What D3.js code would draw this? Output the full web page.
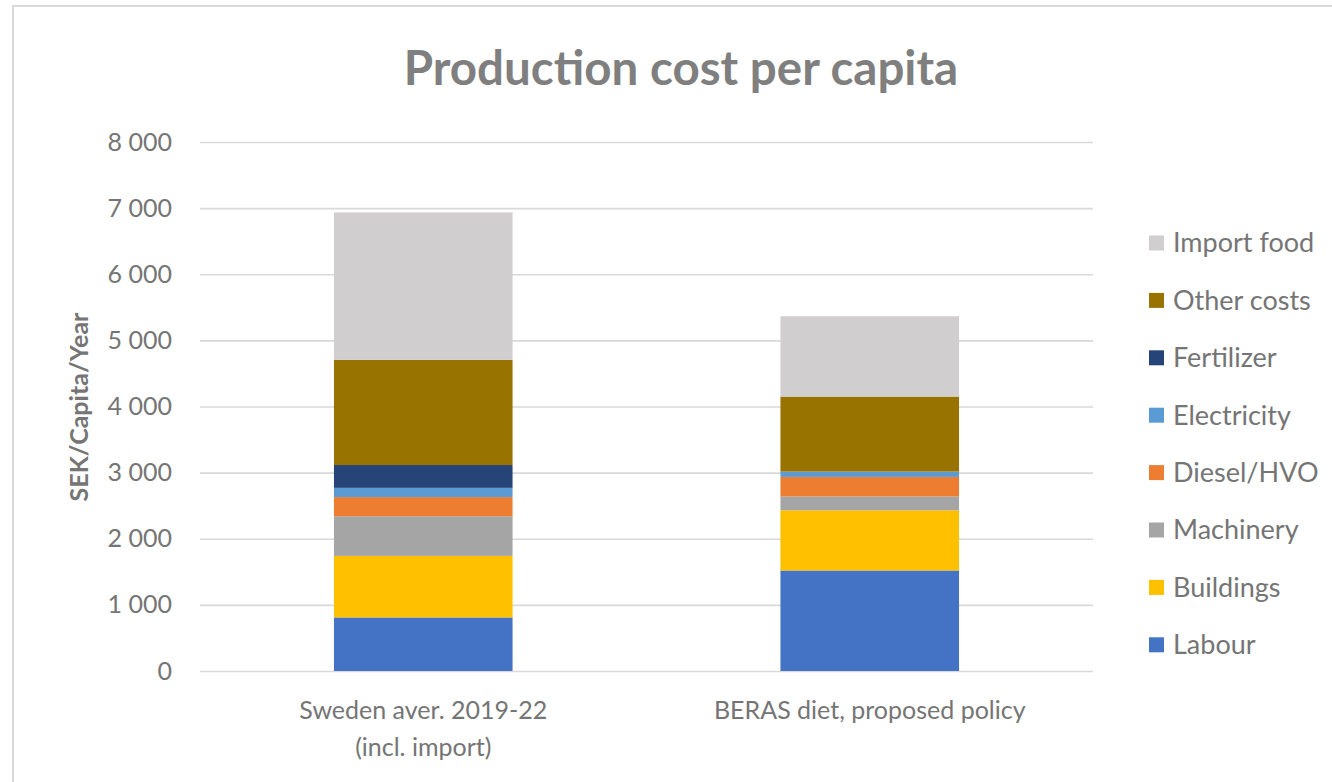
<!DOCTYPE html>
<html>
<head>
<meta charset="utf-8">
<script src="https://cdn.jsdelivr.net/npm/d3@7"></script>
<style>
  html, body { margin: 0; padding: 0; background: #ffffff; }
  svg { display: block; font-family: Lato, "Open Sans", sans-serif; }
  svg text { font-family: Lato, "Open Sans", sans-serif; }
</style>
</head>
<body>
<svg id="chart" width="1332" height="782"></svg>
<script>
// Categories (x axis), split into display lines
const categories = ["Sweden aver. 2019-22\n(incl. import)", "BERAS diet, proposed policy"];

// Cost components, bottom to top of each stacked bar (SEK per capita per year)
const seriesNames = ["Labour", "Buildings", "Machinery", "Diesel/HVO", "Electricity", "Fertilizer", "Other costs", "Import food"];
const labour      = [810, 1520];
const buildings   = [930, 910];
const machinery   = [600, 210];
const diesel      = [290, 295];
const electricity = [140, 80];
const fertilizer  = [345, 0];
const otherCosts  = [1590, 1135];
const importFood  = [2230, 1215];

const seriesColors = ["#4472C4", "#FFC000", "#A5A5A5", "#ED7D31", "#5B9BD5", "#264478", "#997300", "#D0CECF"];

const yTicks = [0, 1000, 2000, 3000, 4000, 5000, 6000, 7000, 8000];

const seriesValues = [labour, buildings, machinery, diesel, electricity, fertilizer, otherCosts, importFood];
const table = categories.map((c, i) => {
  const row = { category: c };
  seriesNames.forEach((s, j) => { row[s] = seriesValues[j][i]; });
  return row;
});

const svg = d3.select("#chart");

// Chart frame
svg.append("rect")
  .attr("x", 13).attr("y", 6)
  .attr("width", 1340).attr("height", 800)
  .attr("fill", "#ffffff")
  .attr("stroke", "#d9d9d9").attr("stroke-width", 2);

const x = d3.scaleBand()
  .domain(categories)
  .range([200, 1093])
  .paddingInner(0.6)
  .paddingOuter(0.3);

const y = d3.scaleLinear()
  .domain([0, 8000])
  .range([671, 142]);

const fmt = v => d3.format(",")(v).replace(/,/g, "\u00a0");

// Gridlines and y tick labels via axis
const yAxis = d3.axisLeft(y)
  .tickValues(yTicks)
  .tickSize(-(1093 - 200))
  .tickPadding(28)
  .tickFormat(fmt);

const gy = svg.append("g")
  .attr("transform", "translate(200,0)")
  .call(yAxis)
  .attr("font-family", null);
gy.select(".domain").remove();
gy.selectAll(".tick line").attr("stroke", "#d9d9d9").attr("stroke-width", 1.6);
gy.selectAll(".tick text")
  .attr("fill", "#757575")
  .style("font-size", "25px");

// Stacked bars
const stack = d3.stack().keys(seriesNames);
const layers = stack(table);

svg.append("g")
  .selectAll("g")
  .data(layers)
  .join("g")
  .attr("fill", (d, i) => seriesColors[i])
  .selectAll("rect")
  .data(d => d)
  .join("rect")
  .attr("x", d => x(d.data.category))
  .attr("width", x.bandwidth())
  .attr("y", d => y(d[1]))
  .attr("height", d => y(d[0]) - y(d[1]));

// X axis labels
const xAxis = d3.axisBottom(x).tickSize(0).tickFormat(() => "");
const gx = svg.append("g")
  .attr("transform", "translate(0,671)")
  .call(xAxis)
  .attr("font-family", null);
gx.select(".domain").remove();
gx.selectAll(".tick").each(function (d) {
  const lines = d.split("\n");
  const t = d3.select(this).append("text")
    .attr("fill", "#757575")
    .attr("text-anchor", "middle")
    .style("font-size", "25px");
  lines.forEach((line, i) => {
    t.append("tspan")
      .attr("x", 0)
      .attr("y", 48 + i * 37)
      .text(line);
  });
});

// Title
svg.append("text")
  .attr("x", 681)
  .attr("y", 85)
  .attr("text-anchor", "middle")
  .attr("fill", "#7f7f7f")
  .style("font-size", "47.5px")
  .style("font-weight", "bold")
  .text("Production cost per capita");

// Y axis title
svg.append("text")
  .attr("transform", "translate(88,407) rotate(-90)")
  .attr("text-anchor", "middle")
  .attr("fill", "#757575")
  .style("font-size", "25px")
  .style("font-weight", "bold")
  .text("SEK/Capita/Year");

// Legend, top entry is the top of the stack
const legendItems = seriesNames.map((name, i) => ({ name, color: seriesColors[i] })).reverse();
const legend = svg.append("g");
const leg = legend.selectAll("g")
  .data(legendItems)
  .join("g")
  .attr("transform", (d, i) => `translate(1149,${243 + i * 57.4})`);
leg.append("rect")
  .attr("x", 0).attr("y", -7.5)
  .attr("width", 15).attr("height", 15)
  .attr("fill", d => d.color);
leg.append("text")
  .attr("x", 24)
  .attr("y", 0)
  .attr("dy", "0.35em")
  .attr("fill", "#757575")
  .style("font-size", "27px")
  .text(d => d.name);
</script>
</body>
</html>
